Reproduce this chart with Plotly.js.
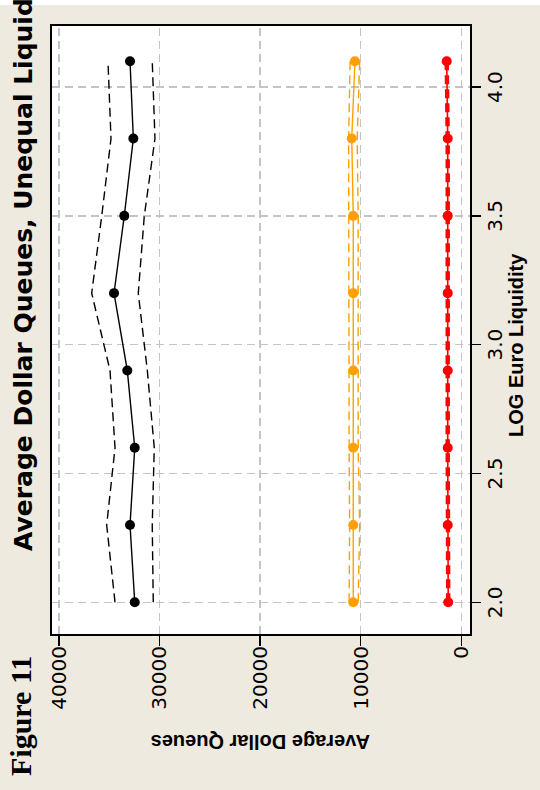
<!DOCTYPE html>
<html><head><meta charset="utf-8">
<script src="https://cdn.plot.ly/plotly-3.0.1.min.js"></script>
<style>
html,body{margin:0;padding:0;background:#ffffff;width:540px;height:790px;overflow:hidden;}
#chart{position:absolute;left:0;top:0;width:790px;height:540px;transform-origin:0 0;transform:translate(0,790px) rotate(-90deg);}
</style></head><body><div id="chart"></div>
<script>
// LOG Euro Liquidity (x) and Average Dollar Queues (y)
const logEuroLiquidity = [2.0, 2.3, 2.6, 2.9, 3.2, 3.5, 3.8, 4.1];
const blackMean  = [32460, 32930, 32460, 33200, 34520, 33500, 32600, 32930];
const blackUpper = [34420, 35250, 34420, 34920, 36740, 35740, 34820, 35120];
const blackLower = [30620, 30720, 30520, 31210, 32110, 31510, 30450, 30720];
const orangeMean  = [10740, 10740, 10740, 10740, 10740, 10740, 10890, 10570];
const orangeUpper = [11150, 11100, 11150, 11150, 11150, 11150, 11200, 11050];
const orangeLower = [10250, 10100, 10250, 10250, 10250, 10250, 10350, 10100];
const redMean  = [1300, 1350, 1350, 1350, 1350, 1350, 1350, 1450];
const redUpper = [1420, 1470, 1470, 1470, 1470, 1470, 1470, 1570];
const redLower = [1180, 1230, 1230, 1230, 1230, 1230, 1230, 1330];
const xTickVals = [2.0, 2.5, 3.0, 3.5, 4.0];
const yTickVals = [0, 10000, 20000, 30000, 40000];
const chartTitle = 'Average Dollar Queues, Unequal Liquidity';
const xTitle = 'LOG Euro Liquidity';
const yTitle = 'Average Dollar Queues';
const figLabel = 'Figure 11';

const DASH = '9px,5px';
function ci(y, color, w) {
  return {x: logEuroLiquidity, y: y, mode: 'lines', type: 'scatter',
          line: {color: color, width: w, dash: DASH}, hoverinfo: 'skip', showlegend: false};
}
function mean(y, color, w) {
  return {x: logEuroLiquidity, y: y, mode: 'lines+markers', type: 'scatter',
          line: {color: color, width: w}, marker: {color: color, size: 10}, showlegend: false};
}
const traces = [
  ci(blackUpper, '#000000', 1.4), ci(blackLower, '#000000', 1.4), mean(blackMean, '#000000', 1.4),
  ci(orangeUpper, '#FFA000', 1.4), ci(orangeLower, '#FFA000', 1.4), mean(orangeMean, '#FFA000', 1.4),
  ci(redUpper, '#FF0000', 2), ci(redLower, '#FF0000', 2), mean(redMean, '#FF0000', 1.6)
];

const L = 156, R = 26, T = 52, B = 70, W = 790, H = 540;
const pw = W - L - R, ph = H - T - B;
const px = u => (u - L) / pw;
const py = v => 1 - (v - T) / ph;

const tickFont = {family: 'DejaVu Sans', size: 20, color: '#000000'};
const layout = {
  width: W, height: H,
  margin: {l: L, r: R, t: T, b: B, pad: 0},
  paper_bgcolor: '#EEEAE0', plot_bgcolor: '#FFFFFF',
  showlegend: false,
  xaxis: {range: [1.877, 4.237], tickvals: xTickVals, tickformat: '.1f',
          ticks: 'outside', ticklen: 9, tickwidth: 1.5, tickcolor: '#000',
          ticklabelstandoff: -3,
          showline: true, mirror: true, linecolor: '#000', linewidth: 2,
          showgrid: true, gridcolor: '#C4C4C4', gridwidth: 1.5, griddash: '8px,5px',
          zeroline: false, tickfont: tickFont},
  yaxis: {range: [-865, 40685], tickvals: yTickVals, tickformat: 'd',
          ticks: 'outside', ticklen: 10, tickwidth: 1.5, tickcolor: '#000',
          ticklabelstandoff: -4,
          showline: true, mirror: true, linecolor: '#000', linewidth: 2,
          showgrid: true, gridcolor: '#C4C4C4', gridwidth: 1.5, griddash: '8px,5px',
          zeroline: false, tickfont: tickFont},
  shapes: [{type: 'rect', xref: 'paper', yref: 'paper', x0: px(785), x1: px(800), y0: -0.3, y1: 1.3,
            line: {width: 0}, fillcolor: '#FFFFFF', layer: 'below'}],
  annotations: [
    {text: chartTitle, xref: 'paper', yref: 'paper', x: px(237), y: py(23), xanchor: 'left', yanchor: 'middle',
     showarrow: false, font: {family: 'DejaVu Sans', size: 25, weight: 'bold', color: '#000'}},
    {text: figLabel, xref: 'paper', yref: 'paper', x: px(12), y: py(20.7), xanchor: 'left', yanchor: 'middle',
     showarrow: false, font: {family: 'Liberation Serif', size: 30, weight: 'bold', color: '#000'}},
    {text: xTitle, xref: 'paper', yref: 'paper', x: px(445), y: py(516), xanchor: 'center', yanchor: 'middle',
     showarrow: false, font: {family: 'Liberation Sans', size: 20, weight: 'bold', color: '#000'}},
    {text: yTitle, xref: 'paper', yref: 'paper', x: px(48), y: 0.5, xanchor: 'center', yanchor: 'middle',
     textangle: -90, showarrow: false, font: {family: 'Liberation Sans', size: 20, weight: 'bold', color: '#000'}}
  ]
};
Plotly.newPlot('chart', traces, layout, {displayModeBar: false, staticPlot: true});
</script></body></html>
